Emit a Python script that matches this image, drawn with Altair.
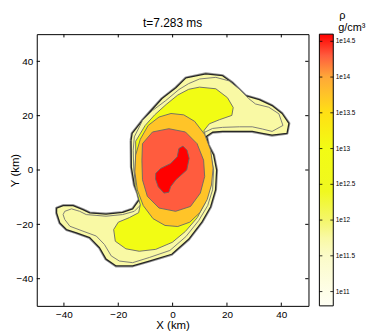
import altair as alt
import pandas as pd

# ---- contour polygons (km) ----
outer_x = [-15.3, -14.9, -11.2, -7.9, -3.9, 1.2, 4.9, 12.2, 18.4, 22.0, 26.8, 31.9, 36.6, 40.3, 42.8, 42.1,
           36.6, 33.0, 29.3, 24.6, 18.4, 14.7, 12.5, 13.2, 15.1, 16.2, 15.8, 14.0, 10.7, 5.9, -0.3, -8.6,
           -14.7, -20.8, -24.5, -26.9, -30.5, -35.4, -39.1, -41.5, -42.7, -42.7, -40.3, -36.6, -33.0, -30.5,
           -24.5, -18.4, -14.7, -12.3, -12.9, -14.1, -15.2]
outer_y = [10.9, 13.5, 18.2, 21.9, 26.3, 30.3, 33.9, 35.4, 34.7, 32.1, 27.4, 25.9, 23.7, 20.8, 17.2, 13.5,
           12.8, 13.5, 14.2, 14.2, 14.2, 13.9, 12.4, 9.1, 5.5, 0.0, -7.3, -13.5, -19.3, -25.5, -31.0, -33.5,
           -35.3, -35.3, -32.8, -28.6, -24.9, -23.1, -21.9, -19.5, -15.8, -14.0, -13.1, -13.1, -14.6, -15.8,
           -16.2, -15.6, -14.3, -10.9, -8.5, -5.5, 1.1]

pale_x = [-14.1, -11.1, -7.4, -2.6, 2.3, 5.9, 9.9, 15.9, 20.8, 24.5, 28.1, 30.5, 35.4, 39.1, 40.6, 36.6,
          33.0, 29.3, 24.6, 18.4, 14.7, 11.8, 12.3, 14.0, 15.1, 14.7, 12.9, 9.6, 4.9, -1.0, -8.6, -14.7,
          -19.6, -22.6, -25.1, -28.1, -33.0, -37.8, -39.7, -40.3, -39.7, -37.2, -34.2, -31.8, -24.5, -18.4,
          -14.1, -11.7, -12.3, -13.4, -14.3, -14.5]
pale_y = [12.2, 18.2, 21.9, 25.5, 29.6, 31.8, 33.5, 34.1, 32.8, 29.8, 26.2, 24.3, 23.1, 20.7, 16.4, 14.2,
          15.1, 15.9, 15.9, 15.7, 15.3, 13.9, 9.1, 5.5, 0.0, -7.3, -13.1, -18.6, -24.5, -29.6, -32.2, -34.1,
          -33.5, -31.6, -27.4, -24.3, -22.5, -20.7, -18.2, -16.4, -15.2, -14.3, -15.2, -16.4, -17.0, -16.4,
          -15.2, -12.8, -9.7, -6.6, 0.0, 7.3]

yellow_x = [-13.6, -10.1, -6.6, -2.4, 1.9, 5.9, 9.9, 15.9, 20.2, 22.3, 21.8, 17.2, 13.5, 11.6, 11.6, 13.1,
            14.0, 13.6, 11.8, 9.1, 4.7, -0.1, -6.2, -12.3, -17.2, -21.1, -21.7, -20.0, -15.9, -12.5, -11.9,
            -12.8, -13.8, -13.8, -13.6]
yellow_y = [10.6, 16.4, 20.3, 24.1, 27.6, 29.7, 30.5, 29.9, 26.6, 23.0, 20.1, 18.5, 17.0, 14.6, 9.9, 5.1,
            0.0, -6.6, -12.4, -17.5, -22.6, -26.6, -29.2, -29.9, -29.0, -26.2, -21.9, -19.2, -17.5, -15.7, -12.8,
            -9.5, -5.8, 0.0, 5.5]

gold_x = [-0.6, -5.0, -9.0, -11.9, -13.6, -13.9, -13.0, -10.8, -7.2, -2.8, 1.9, 6.3, 10.0, 12.7, 14.3,
          14.9, 14.0, 11.8, 8.1, 4.1]
gold_y = [20.8, 19.5, 16.4, 11.3, 5.5, -0.7, -7.3, -13.1, -17.9, -20.4, -20.8, -19.2, -15.7, -10.9, -5.5,
          0.7, 7.3, 13.1, 17.9, 20.3]

tomato_x = [-11.1, -7.4, -1.4, 4.7, 9.0, 11.4, 11.8, 10.2, 6.6, 1.1, -5.0, -9.3, -11.1, -11.3]
tomato_y = [9.7, 14.0, 15.2, 14.0, 9.7, 3.6, -2.4, -8.5, -13.4, -15.2, -14.0, -9.7, -3.6, 3.6]

red_x = [-6.2, -4.4, -0.7, 1.7, 2.3, 3.8, 5.3, 6.1, 5.2, 1.2, -0.7, -1.4, -3.2, -5.3, -6.3]
red_y = [-1.2, 0.6, 2.4, 4.9, 7.9, 8.8, 7.3, 4.3, 0.0, -3.6, -6.1, -8.2, -8.5, -6.2, -3.3]

# log10 density of each filled band
band_levels = {"outer": 11.75, "pale": 11.75, "yellow": 13.0, "gold": 13.75, "tomato": 14.3, "red": 14.6}

# colour bar (log10 rho stops and colours)
cbar_domain = [10.8, 11.5, 11.75, 12.0, 12.4, 13.0, 13.5, 13.75, 14.0, 14.3, 14.6]
cbar_colors = ["#fffff4", "#fbfbc8", "#f9f9a4", "#f4f66a", "#f0f820", "#f2fc14", "#ffe014", "#ffc428",
               "#ffa838", "#ff5c3e", "#ff0000"]
cbar_ticks = [11, 11.5, 12, 12.5, 13, 13.5, 14, 14.5]
cbar_labels = ["1e11", "1e11.5", "1e12", "1e12.5", "1e13", "1e13.5", "1e14", "1e14.5"]

axis_ticks = [-40, -20, 0, 20, 40]
title_text = "t=7.283 ms"
unit_lines = ["ρ", "g/cm³"]


def poly(xs, ys, level):
    xs2 = xs + [xs[0]]
    ys2 = ys + [ys[0]]
    return pd.DataFrame({"x": xs2, "y": ys2, "i": list(range(len(xs2))), "level": level})


km = alt.Scale(domain=[-50, 50], nice=False, zero=False)
X = alt.X("x:Q", scale=km,
          axis=alt.Axis(values=axis_ticks, ticks=False, domain=False, grid=False, labelFontSize=10,
                        labelPadding=4, labelColor="#000", labelFont="Liberation Sans",
                        title="X (km)", titleFontSize=11.5, titleFontWeight="normal",
                        titleFont="Liberation Sans", titleColor="#000", titleY=20, titleBaseline="middle"))
Y = alt.Y("y:Q", scale=km,
          axis=alt.Axis(values=axis_ticks, ticks=False, domain=False, grid=False, labelFontSize=10,
                        labelPadding=4, labelColor="#000", labelFont="Liberation Sans",
                        title="Y (km)", titleFontSize=11.5, titleFontWeight="normal",
                        titleFont="Liberation Sans", titleColor="#000", titleX=-21, titleY=137,
                        titleAngle=270, titleAlign="center", titleBaseline="middle"))

fill_scale = alt.Scale(domain=cbar_domain, range=cbar_colors, interpolate="rgb", nice=False, zero=False)
FILL = alt.Fill("level:Q", scale=fill_scale, legend=None)


def band(df, stroke, width):
    return alt.Chart(df).mark_line(stroke=stroke, strokeWidth=width, strokeJoin="round").encode(
        x=X, y=Y, order="i:Q", fill=FILL)


outer_df = poly(outer_x, outer_y, band_levels["outer"])
halo = alt.Chart(outer_df).mark_line(stroke="#9a9a9a", strokeWidth=3.0, strokeJoin="round").encode(
    x=X, y=Y, order="i:Q")

main = [
    halo,
    band(outer_df, "#262626", 1.3),
    band(poly(pale_x, pale_y, band_levels["pale"]), "#707070", 0.9),
    band(poly(yellow_x, yellow_y, band_levels["yellow"]), "#666666", 0.9),
    band(poly(gold_x, gold_y, band_levels["gold"]), "#666666", 0.9),
    band(poly(tomato_x, tomato_y, band_levels["tomato"]), "#666666", 0.9),
    band(poly(red_x, red_y, band_levels["red"]), "#666666", 0.9),
]

tick_df = pd.DataFrame({"t": axis_ticks})
tk = 1.2
main += [
    alt.Chart(tick_df).mark_rule(color="#000", strokeWidth=1).encode(
        x=alt.X("t:Q", scale=km), y=alt.datum(-50), y2=alt.datum(-50 + tk)),
    alt.Chart(tick_df).mark_rule(color="#000", strokeWidth=1).encode(
        x=alt.X("t:Q", scale=km), y=alt.datum(50), y2=alt.datum(50 - tk)),
    alt.Chart(tick_df).mark_rule(color="#000", strokeWidth=1).encode(
        y=alt.Y("t:Q", scale=km), x=alt.datum(-50), x2=alt.datum(-50 + tk)),
    alt.Chart(tick_df).mark_rule(color="#000", strokeWidth=1).encode(
        y=alt.Y("t:Q", scale=km), x=alt.datum(50), x2=alt.datum(50 - tk)),
]

txt_df = pd.DataFrame({"u": [title_text] + unit_lines, "k": ["title", "rho", "unit"]})
main += [
    alt.Chart(txt_df.iloc[[0]]).mark_text(align="center", baseline="middle", fontSize=12,
                                          font="Liberation Sans", color="#000").encode(
        x=alt.value(137), y=alt.value(-11), text="u:N"),
    alt.Chart(txt_df.iloc[[1]]).mark_text(align="left", baseline="middle", fontSize=11,
                                          font="Liberation Sans", color="#000").encode(
        x=alt.value(305), y=alt.value(-18.5), text="u:N"),
    alt.Chart(txt_df.iloc[[2]]).mark_text(align="left", baseline="middle", fontSize=11,
                                          font="Liberation Sans", color="#000").encode(
        x=alt.value(304), y=alt.value(-6.5), text="u:N"),
]

# ---- colour bar drawn on its own (hidden) log-density scale ----
lo, hi = cbar_domain[0], cbar_domain[-1]
cb_scale = alt.Scale(domain=[lo, hi], nice=False, zero=False)
grad = alt.LinearGradient(
    gradient="linear", x1=0, y1=1, x2=0, y2=0,
    stops=[alt.GradientStop(offset=(v - lo) / (hi - lo), color=c) for v, c in zip(cbar_domain, cbar_colors)])
bar_df = pd.DataFrame({"lo": [lo], "hi": [hi]})
cb_df = pd.DataFrame({"v": cbar_ticks, "lab": cbar_labels})
CBY = alt.Y("v:Q", scale=cb_scale, axis=None)
cbar = alt.layer(
    alt.Chart(bar_df).mark_rect(fill=grad, stroke="#000", strokeWidth=1).encode(
        y=alt.Y("lo:Q", scale=cb_scale, axis=None), y2="hi:Q", x=alt.value(285), x2=alt.value(299)),
    alt.Chart(cb_df).mark_rule(color="#000", strokeWidth=0.8).encode(y=CBY, x=alt.value(285), x2=alt.value(288)),
    alt.Chart(cb_df).mark_rule(color="#000", strokeWidth=0.8).encode(y=CBY, x=alt.value(296), x2=alt.value(299)),
    alt.Chart(cb_df).mark_text(align="left", baseline="middle", fontSize=6.5, font="Liberation Sans",
                               color="#000").encode(y=CBY, x=alt.value(301.5), text="lab:N"),
)

chart = alt.layer(alt.layer(*main), cbar).resolve_scale(y="independent").properties(
    width=274, height=274,
    autosize=alt.AutoSizeParams(type="none"),
    padding={"left": 29, "top": 25, "right": 58, "bottom": 28},
    background="white",
).configure_view(stroke="#000", strokeWidth=1)

chart.save("out.html", embed_options={"renderer": "svg", "actions": False})
